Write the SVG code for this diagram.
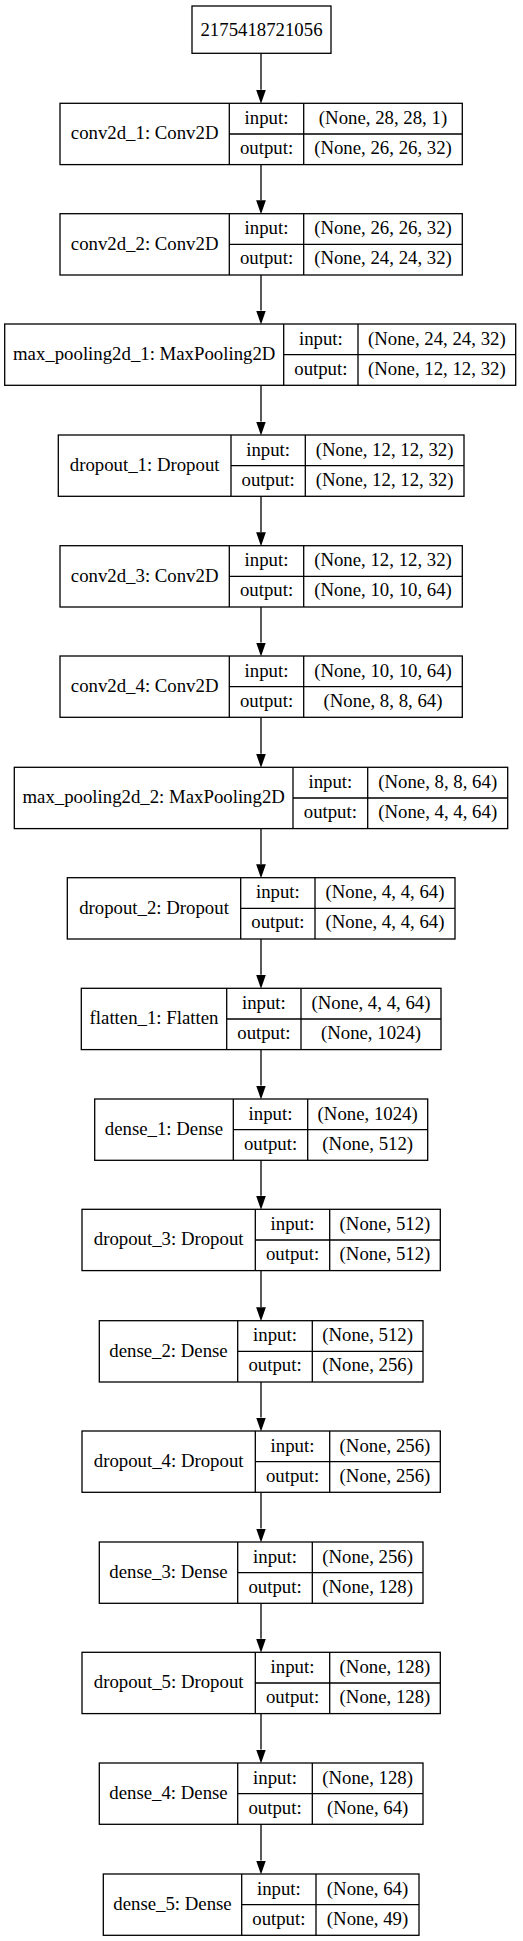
<svg xmlns="http://www.w3.org/2000/svg" width="523" height="1941" viewBox="0 0 523 1941">
<style>
.b{fill:#fff;stroke:#000;stroke-width:1.3}
.l{fill:none;stroke:#000;stroke-width:1.3}
.e{fill:none;stroke:#000;stroke-width:1.3;marker-end:url(#ah)}
text{font-family:"Liberation Serif","Times New Roman",serif;font-size:18.8px;fill:#000;text-anchor:middle}
</style>
<defs>
<marker id="ah" markerUnits="userSpaceOnUse" markerWidth="14" markerHeight="10" viewBox="0 0 13.5 9.4" refX="0" refY="4.7" orient="auto"><path d="M0,0L13.5,4.7L0,9.4z" fill="#000"/></marker>
</defs>
<rect width="523" height="1941" fill="#fff"/>
<g id="edges">
<path class="e" d="M261 53.3V89.8"/>
<path class="e" d="M261 164.6V200.2"/>
<path class="e" d="M261 275V310.5"/>
<path class="e" d="M261 385.3V421.5"/>
<path class="e" d="M261 496.3V532.2"/>
<path class="e" d="M261 607V642.5"/>
<path class="e" d="M261 717.3V753.8"/>
<path class="e" d="M261 828.6V864.2"/>
<path class="e" d="M261 939V974.8"/>
<path class="e" d="M261 1049.6V1085.5"/>
<path class="e" d="M261 1160.3V1195.8"/>
<path class="e" d="M261 1270.6V1307.2"/>
<path class="e" d="M261 1382V1417.5"/>
<path class="e" d="M261 1492.3V1528.5"/>
<path class="e" d="M261 1603.3V1638.8"/>
<path class="e" d="M261 1713.6V1749.5"/>
<path class="e" d="M261 1824.3V1860.5"/>
</g>
<g id="n0"><rect class="b" x="192" y="6" width="139" height="47.3"/><text x="261.5" y="35.5">2175418721056</text></g>
<g id="n1"><rect class="b" x="60" y="103.3" width="402.3" height="61.3"/><path class="l" d="M229.3 103.3V164.6M303.7 103.3V164.6M229.3 134H462.3"/><text x="144.65" y="139.3">conv2d_1: Conv2D</text><text x="266.5" y="123.8">input:</text><text x="266.5" y="153.8">output:</text><text x="383" y="123.8">(None, 28, 28, 1)</text><text x="383" y="153.8">(None, 26, 26, 32)</text></g>
<g id="n2"><rect class="b" x="60" y="213.7" width="402.3" height="61.3"/><path class="l" d="M229.3 213.7V275M303.7 213.7V275M229.3 244.4H462.3"/><text x="144.65" y="249.7">conv2d_2: Conv2D</text><text x="266.5" y="234.2">input:</text><text x="266.5" y="264.2">output:</text><text x="383" y="234.2">(None, 26, 26, 32)</text><text x="383" y="264.2">(None, 24, 24, 32)</text></g>
<g id="n3"><rect class="b" x="4.7" y="324" width="511" height="61.3"/><path class="l" d="M283.7 324V385.3M358 324V385.3M283.7 354.7H515.7"/><text x="144.2" y="360">max_pooling2d_1: MaxPooling2D</text><text x="320.85" y="344.5">input:</text><text x="320.85" y="374.5">output:</text><text x="436.85" y="344.5">(None, 24, 24, 32)</text><text x="436.85" y="374.5">(None, 12, 12, 32)</text></g>
<g id="n4"><rect class="b" x="58.3" y="435" width="405.7" height="61.3"/><path class="l" d="M231 435V496.3M305.3 435V496.3M231 465.7H464"/><text x="144.65" y="471">dropout_1: Dropout</text><text x="268.15" y="455.5">input:</text><text x="268.15" y="485.5">output:</text><text x="384.65" y="455.5">(None, 12, 12, 32)</text><text x="384.65" y="485.5">(None, 12, 12, 32)</text></g>
<g id="n5"><rect class="b" x="60" y="545.7" width="402.3" height="61.3"/><path class="l" d="M229.3 545.7V607M303.7 545.7V607M229.3 576.4H462.3"/><text x="144.65" y="581.7">conv2d_3: Conv2D</text><text x="266.5" y="566.2">input:</text><text x="266.5" y="596.2">output:</text><text x="383" y="566.2">(None, 12, 12, 32)</text><text x="383" y="596.2">(None, 10, 10, 64)</text></g>
<g id="n6"><rect class="b" x="60" y="656" width="402.3" height="61.3"/><path class="l" d="M229.3 656V717.3M303.7 656V717.3M229.3 686.7H462.3"/><text x="144.65" y="692">conv2d_4: Conv2D</text><text x="266.5" y="676.5">input:</text><text x="266.5" y="706.5">output:</text><text x="383" y="676.5">(None, 10, 10, 64)</text><text x="383" y="706.5">(None, 8, 8, 64)</text></g>
<g id="n7"><rect class="b" x="14.3" y="767.3" width="493.4" height="61.3"/><path class="l" d="M293 767.3V828.6M367.7 767.3V828.6M293 798H507.7"/><text x="153.65" y="803.3">max_pooling2d_2: MaxPooling2D</text><text x="330.35" y="787.8">input:</text><text x="330.35" y="817.8">output:</text><text x="437.7" y="787.8">(None, 8, 8, 64)</text><text x="437.7" y="817.8">(None, 4, 4, 64)</text></g>
<g id="n8"><rect class="b" x="67.3" y="877.7" width="387.7" height="61.3"/><path class="l" d="M240.7 877.7V939M315 877.7V939M240.7 908.4H455"/><text x="154" y="913.7">dropout_2: Dropout</text><text x="277.85" y="898.2">input:</text><text x="277.85" y="928.2">output:</text><text x="385" y="898.2">(None, 4, 4, 64)</text><text x="385" y="928.2">(None, 4, 4, 64)</text></g>
<g id="n9"><rect class="b" x="81.3" y="988.3" width="359.7" height="61.3"/><path class="l" d="M226.7 988.3V1049.6M301 988.3V1049.6M226.7 1019H441"/><text x="154" y="1024.3">flatten_1: Flatten</text><text x="263.85" y="1008.8">input:</text><text x="263.85" y="1038.8">output:</text><text x="371" y="1008.8">(None, 4, 4, 64)</text><text x="371" y="1038.8">(None, 1024)</text></g>
<g id="n10"><rect class="b" x="94.7" y="1099" width="333" height="61.3"/><path class="l" d="M233.3 1099V1160.3M307.7 1099V1160.3M233.3 1129.7H427.7"/><text x="164" y="1135">dense_1: Dense</text><text x="270.5" y="1119.5">input:</text><text x="270.5" y="1149.5">output:</text><text x="367.7" y="1119.5">(None, 1024)</text><text x="367.7" y="1149.5">(None, 512)</text></g>
<g id="n11"><rect class="b" x="82" y="1209.3" width="358.3" height="61.3"/><path class="l" d="M255.3 1209.3V1270.6M329.7 1209.3V1270.6M255.3 1240H440.3"/><text x="168.65" y="1245.3">dropout_3: Dropout</text><text x="292.5" y="1229.8">input:</text><text x="292.5" y="1259.8">output:</text><text x="385" y="1229.8">(None, 512)</text><text x="385" y="1259.8">(None, 512)</text></g>
<g id="n12"><rect class="b" x="99.3" y="1320.7" width="323.7" height="61.3"/><path class="l" d="M237.7 1320.7V1382M312.3 1320.7V1382M237.7 1351.4H423"/><text x="168.5" y="1356.7">dense_2: Dense</text><text x="275" y="1341.2">input:</text><text x="275" y="1371.2">output:</text><text x="367.65" y="1341.2">(None, 512)</text><text x="367.65" y="1371.2">(None, 256)</text></g>
<g id="n13"><rect class="b" x="82" y="1431" width="358.3" height="61.3"/><path class="l" d="M255.3 1431V1492.3M329.7 1431V1492.3M255.3 1461.7H440.3"/><text x="168.65" y="1467">dropout_4: Dropout</text><text x="292.5" y="1451.5">input:</text><text x="292.5" y="1481.5">output:</text><text x="385" y="1451.5">(None, 256)</text><text x="385" y="1481.5">(None, 256)</text></g>
<g id="n14"><rect class="b" x="99.3" y="1542" width="323.7" height="61.3"/><path class="l" d="M237.7 1542V1603.3M312.3 1542V1603.3M237.7 1572.7H423"/><text x="168.5" y="1578">dense_3: Dense</text><text x="275" y="1562.5">input:</text><text x="275" y="1592.5">output:</text><text x="367.65" y="1562.5">(None, 256)</text><text x="367.65" y="1592.5">(None, 128)</text></g>
<g id="n15"><rect class="b" x="82" y="1652.3" width="358.3" height="61.3"/><path class="l" d="M255.3 1652.3V1713.6M329.7 1652.3V1713.6M255.3 1683H440.3"/><text x="168.65" y="1688.3">dropout_5: Dropout</text><text x="292.5" y="1672.8">input:</text><text x="292.5" y="1702.8">output:</text><text x="385" y="1672.8">(None, 128)</text><text x="385" y="1702.8">(None, 128)</text></g>
<g id="n16"><rect class="b" x="99.3" y="1763" width="323.7" height="61.3"/><path class="l" d="M237.7 1763V1824.3M312.3 1763V1824.3M237.7 1793.7H423"/><text x="168.5" y="1799">dense_4: Dense</text><text x="275" y="1783.5">input:</text><text x="275" y="1813.5">output:</text><text x="367.65" y="1783.5">(None, 128)</text><text x="367.65" y="1813.5">(None, 64)</text></g>
<g id="n17"><rect class="b" x="103.3" y="1874" width="315.7" height="61.3"/><path class="l" d="M241.7 1874V1935.3M316 1874V1935.3M241.7 1904.7H419"/><text x="172.5" y="1910">dense_5: Dense</text><text x="278.85" y="1894.5">input:</text><text x="278.85" y="1924.5">output:</text><text x="367.5" y="1894.5">(None, 64)</text><text x="367.5" y="1924.5">(None, 49)</text></g>
</svg>
